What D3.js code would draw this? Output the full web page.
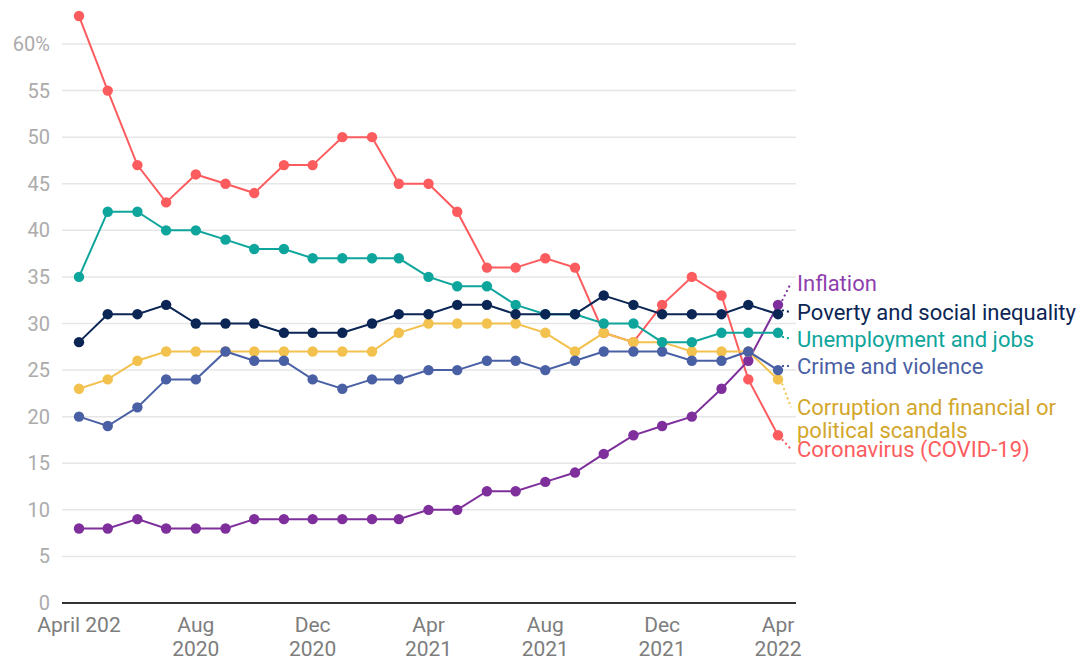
<!DOCTYPE html>
<html>
<head>
<meta charset="utf-8">
<script src="https://cdn.jsdelivr.net/npm/d3@7"></script>
<style>
  body { margin: 0; background: #fff; }
  svg { font-family: Roboto, "Noto Sans", sans-serif; }
</style>
</head>
<body>
<svg id="chart" width="1084" height="659"></svg>
<script>
// months, April 2020 .. April 2022
const months = ["2020-04","2020-05","2020-06","2020-07","2020-08","2020-09","2020-10","2020-11","2020-12",
  "2021-01","2021-02","2021-03","2021-04","2021-05","2021-06","2021-07","2021-08","2021-09","2021-10","2021-11","2021-12",
  "2022-01","2022-02","2022-03","2022-04"];

const coronavirus  = [63,55,47,43,46,45,44,47,47,50,50,45,45,42,36,36,37,36,29,28,32,35,33,24,18];
const unemployment = [35,42,42,40,40,39,38,38,37,37,37,37,35,34,34,32,31,31,30,30,28,28,29,29,29];
const poverty      = [28,31,31,32,30,30,30,29,29,29,30,31,31,32,32,31,31,31,33,32,31,31,31,32,31];
const corruption   = [23,24,26,27,27,27,27,27,27,27,27,29,30,30,30,30,29,27,29,28,28,27,27,27,24];
const crime        = [20,19,21,24,24,27,26,26,24,23,24,24,25,25,26,26,25,26,27,27,27,26,26,27,25];
const inflation    = [8,8,9,8,8,8,9,9,9,9,9,9,10,10,12,12,13,14,16,18,19,20,23,26,32];

const yTicks = [0,5,10,15,20,25,30,35,40,45,50,55,60];
const xTickMonths = ["2020-04","2020-08","2020-12","2021-04","2021-08","2021-12","2022-04"];
const xTickLabels = [["April 202"],["Aug","2020"],["Dec","2020"],["Apr","2021"],["Aug","2021"],["Dec","2021"],["Apr","2022"]];

// drawn in this order (last on top)
const series = [
  {name: ["Coronavirus (COVID-19)"], values: coronavirus, color: "#fd5c5f", text: "#fd5c5f", dy: 14},
  {name: ["Inflation"], values: inflation, color: "#7e2f9b", text: "#8e3fae", dy: -22},
  {name: ["Corruption and financial or", "political scandals"], values: corruption, color: "#f2c14e", text: "#d3a62c", dy: 28},
  {name: ["Crime and violence"], values: crime, color: "#4a60a5", text: "#4a60a5", dy: -4},
  {name: ["Unemployment and jobs"], values: unemployment, color: "#0ea59c", text: "#0ea59c", dy: 6},
  {name: ["Poverty and social inequality"], values: poverty, color: "#0b2554", text: "#0b2554", dy: -2}
];

const svg = d3.select("#chart");
const margin = {top: 44, right: 288, bottom: 56, left: 62};

const parse = d3.timeParse("%Y-%m");
const dates = months.map(parse);

const x = d3.scaleTime()
  .domain(d3.extent(dates))
  .range([79, 778]);
const y = d3.scaleLinear()
  .domain([0, 60])
  .range([603, 44]);

// gridlines
svg.append("g")
  .selectAll("line")
  .data(yTicks.filter(d => d > 0))
  .join("line")
  .attr("x1", margin.left).attr("x2", 796)
  .attr("y1", d => y(d)).attr("y2", d => y(d))
  .attr("stroke", "#e6e6e6").attr("stroke-width", 1.5);

// y labels
svg.append("g")
  .selectAll("text")
  .data(yTicks)
  .join("text")
  .attr("x", 50).attr("y", d => y(d))
  .attr("dy", "0.35em")
  .attr("text-anchor", "end")
  .attr("fill", "#ababab")
  .style("font-size", "20px")
  .text(d => d === 60 ? "60%" : d);

// baseline
svg.append("line")
  .attr("x1", margin.left).attr("x2", 796)
  .attr("y1", y(0)).attr("y2", y(0))
  .attr("stroke", "#333").attr("stroke-width", 2);

// x labels
const xl = svg.append("g")
  .selectAll("text")
  .data(xTickMonths)
  .join("text")
  .attr("text-anchor", "middle")
  .attr("fill", "#7d7d7d")
  .style("font-size", "21px");
xl.each(function(d, i) {
  const t = d3.select(this);
  xTickLabels[i].forEach((s, j) => {
    t.append("tspan")
      .attr("x", x(parse(d)))
      .attr("y", 632 + j * 24)
      .text(s);
  });
});

// lines and dots
const line = d3.line()
  .x((d, i) => x(dates[i]))
  .y(d => y(d));

series.forEach(s => {
  const g = svg.append("g");
  g.append("path")
    .datum(s.values)
    .attr("fill", "none")
    .attr("stroke", s.color)
    .attr("stroke-width", 2)
    .attr("d", line);
  g.selectAll("circle")
    .data(s.values)
    .join("circle")
    .attr("cx", (d, i) => x(dates[i]))
    .attr("cy", d => y(d))
    .attr("r", 5.2)
    .attr("fill", s.color);
});

// end labels with dotted leaders
const lastDate = dates[dates.length - 1];
series.forEach(s => {
  const v = s.values[s.values.length - 1];
  const px = x(lastDate), py = y(v);
  const ly = py + s.dy;
  svg.append("line")
    .attr("x1", px + 4).attr("y1", py + (ly > py ? 4 : ly < py ? -4 : 0))
    .attr("x2", px + 13).attr("y2", ly)
    .attr("stroke", s.color)
    .attr("stroke-width", 2)
    .attr("stroke-dasharray", "2,3");
  const t = svg.append("text")
    .attr("fill", s.text)
    .style("font-size", "22px");
  s.name.forEach((n, j) => {
    t.append("tspan")
      .attr("x", 797)
      .attr("y", ly + j * 23)
      .attr("dy", "0.35em")
      .text(n);
  });
});
</script>
</body>
</html>
